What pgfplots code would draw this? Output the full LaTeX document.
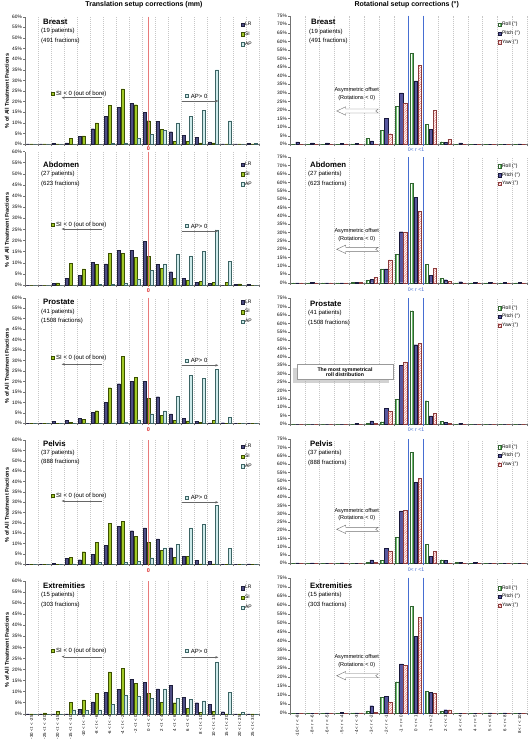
\documentclass[border=0pt]{standalone}
\usepackage{fontspec}
\setmainfont{Liberation Sans}
\usepackage{pgfplots}
\usepackage{pgfplotstable}
\pgfplotsset{compat=1.18}
\usetikzlibrary{patterns.meta, arrows.meta, shadows}

\definecolor{lrc}{RGB}{78,78,132}
\definecolor{lrd}{RGB}{30,30,60}
\definecolor{sic}{RGB}{160,200,40}
\definecolor{sid}{RGB}{60,80,0}
\definecolor{apc}{RGB}{205,234,234}
\definecolor{apd}{RGB}{60,100,100}
\definecolor{rollc}{RGB}{110,190,110}
\definecolor{rolld}{RGB}{50,100,50}
\definecolor{pitchc}{RGB}{88,88,160}
\definecolor{pitchd}{RGB}{25,25,60}
\definecolor{yawc}{RGB}{228,100,100}
\definecolor{yawd}{RGB}{140,60,60}
\definecolor{redl}{RGB}{228,100,100}
\definecolor{redt}{RGB}{220,40,40}
\definecolor{bluel}{RGB}{70,110,210}

\newcommand{\fs}[1]{\fontsize{#1pt}{#1pt}\selectfont}

% ---------- translation data (% of fractions) ----------
\pgfplotstableread{
x LR SI AP
0 0 0 0
1 0 0 0
2 0.2 0 0
3 0.5 2.7 0
4 3.5 3.8 0
5 7.2 10 0
6 13 18.2 0.3
7 17.3 26 0.5
8 19.3 18.5 2.8
9 15 11 4.5
10 10.7 7 6.5
11 5.8 1.2 10
12 4.2 1.2 13
13 3 0.5 15.8
14 1 0.5 35
15 0 0 11
16 0 0 0
17 0.2 0 0.3
}\tA
\pgfplotstableread{
x LR SI AP
0 0 0 0
1 0 0 0
2 0.7 1 0
3 3 9.8 0
4 4.3 7.2 0
5 10.2 9.2 0.3
6 9.5 14.3 0.3
7 15.6 14.3 0.7
8 15.6 12.3 2.5
9 19.6 12.8 6.6
10 9.4 7.5 9.5
11 6 3 14
12 2.9 2 13.1
13 1.3 1.6 15.1
14 0.8 1.1 24.8
15 0 1.1 10.5
16 0.2 0.5 0
17 0.2 0 0
}\tB
\pgfplotstableread{
x LR SI AP
0 0 0 0
1 0 0 0
2 0.8 0 0
3 1.3 0.6 0
4 2.3 1.9 0.2
5 5.3 6 0
6 10.1 17 0.3
7 18.9 32 0.7
8 20 22 1.7
9 20 11.8 4.6
10 12.7 3.8 6
11 4.5 1.3 12.9
12 2.3 1.2 23
13 0.8 0.5 21.5
14 0.2 1.3 25.8
15 0.3 0 3
16 0 0 0
17 0 0 0
}\tC
\pgfplotstableread{
x LR SI AP
0 0 0 0
1 0 0 0
2 0.5 0 0
3 3 3.4 0.3
4 2.2 6.1 0
5 4.8 10.7 0.8
6 9.1 19.7 0
7 18.4 20.7 1.1
8 16.2 13.5 1.4
9 17.6 10.7 3.2
10 12.3 6.7 7.9
11 8 3.5 9.5
12 3.7 3.7 17.6
13 1.8 0.2 19.2
14 1.3 0.2 28.5
15 0 0 7.7
16 0 0 0
17 0.2 0 0
}\tD
\pgfplotstableread{
x LR SI AP
0 0 0 0
1 0 0.4 0
2 0 1.2 0
3 0 5.1 1.8
4 2 6.3 1.4
5 5.4 9.2 1.8
6 9.7 18.9 4.2
7 11 20.4 8.4
8 15.5 13.7 7.8
9 14.3 9.2 6.9
10 11.2 5.1 11.2
11 12.8 5 7.1
12 7.5 2.4 6.5
13 5 0.5 5.9
14 4.1 1.1 23.4
15 0.9 0 9.8
16 0 0 0.8
17 0 0 0
}\tE
% ---------- rotation data ----------
\pgfplotstableread{
x Roll Pitch Yaw
0 0 1.4 0
1 0 0.8 0
2 0 0.8 0
3 0 0.5 0.3
4 0.3 0.5 0
5 3.3 2 0.3
6 8.2 15 6.2
7 22 30 24
8 53 37 46
9 11.5 8.7 20
10 1.5 1 3
11 0 0.8 0
12 0 0 0
13 0 0 0
14 0 0 0
15 0 0.3 0
}\rA
\pgfplotstableread{
x Roll Pitch Yaw
0 0 0 0
1 0 0.3 0
2 0 0 0
3 0 0 0
4 0.2 0.3 0.2
5 1.6 2 3.4
6 8.2 8.2 13.6
7 16.8 30.5 30
8 59.5 51 42.5
9 11 4.6 8.6
10 2.6 1.8 1
11 0 0.6 0
12 0 0.3 0
13 0 0.2 0
14 0 0.2 0
15 0 0.2 0
}\rB
\pgfplotstableread{
x Roll Pitch Yaw
0 0 0 0
1 0 0 0
2 0 0 0
3 0 0 0
4 0 0.5 0
5 0.3 1.8 0.5
6 1.4 9.2 7.6
7 14.7 35.2 37
8 67.6 47.3 48.1
9 13.9 4.8 6.4
10 1.6 1 0.5
11 0 0.5 0
12 0 0 0
13 0 0 0
14 0 0 0
15 0 0 0
}\rC
\pgfplotstableread{
x Roll Pitch Yaw
0 0 0.3 0
1 0 0.3 0
2 0 0 0
3 0 0.2 0
4 0 0 0
5 0.5 2 0.6
6 1.8 9.1 7.5
7 15.9 31.7 32
8 67.1 49 51.4
9 11.3 4.4 7.3
10 2.2 1.7 0.2
11 0.6 0.6 0
12 0 0.6 0
13 0 0 0
14 0 0 0
15 0 0 0
}\rD
\pgfplotstableread{
x Roll Pitch Yaw
0 0 0 0
1 0 0 0
2 0 0.3 0
3 0 0.4 0
4 0.3 0.3 0.3
5 1.3 4.2 0.4
6 8.7 9.4 6.3
7 17.5 27.4 26.7
8 59.3 42.7 53
9 12 11.6 10.9
10 1.2 2 2
11 0 0 0
12 0 0 0
13 0 0.3 0
14 0 0.3 0
15 0 0 0
}\rE

\pgfplotsset{
  basebar/.style={
    scale only axis, ybar, clip=false, ymin=0,
    axis lines=left, axis line style={-, black!55, line width=0.4pt},
    tick align=outside, major tick length=2pt,
    tick style={black!55, line width=0.35pt},
    xticklabels={},
    xmajorgrids, major grid style={dash pattern=on 0.8pt off 1.2pt, black!22, line width=0.35pt},
    yticklabel={\pgfmathprintnumber{\tick}\%},
    /pgf/number format/assume math mode=true,
    yticklabel style={font=\fs{4.8}, inner sep=1pt},
    xticklabel style={rotate=90, anchor=east, font=\fs{4.4}, inner sep=1.5pt},
    legend cell align=left,
    legend style={draw=none, fill=none, anchor=north west, font=\fs{5}, inner sep=0pt, nodes={inner sep=0.6pt}},
    legend image code/.code={\draw[##1] (0pt,-1.7pt) rectangle (3.4pt,1.7pt);},
  },
  trans/.style={basebar, width=234pt, xmin=-0.5, xmax=17.5, ymax=60, ytick={0,5,...,60},
    xtick={-0.5,0.5,...,17.5}, bar width=3pt, legend style={row sep=3.6pt}},
  rot/.style={basebar, width=237pt, xmin=-0.5, xmax=15.5, ymax=75, ytick={0,5,...,75},
    xtick={-0.5,0.5,...,15.5}, bar width=3.4pt, legend style={row sep=2.4pt}},
  lrbar/.style={fill=lrc, draw=lrd, line width=0.3pt, bar shift=-3.6pt},
  sibar/.style={fill=sic, draw=sid, line width=0.3pt, bar shift=0pt},
  apbar/.style={fill=apc, draw=apd, line width=0.3pt, bar shift=3.6pt},
  rollbar/.style={fill=white, draw=rolld, line width=0.3pt, bar shift=-4pt,
    pattern color=rollc, postaction={pattern={Lines[angle=90,distance=1.8pt,line width=0.35pt]}}},
  pitchbar/.style={fill=pitchc, draw=pitchd, line width=0.3pt, bar shift=0pt},
  yawbar/.style={fill=white, draw=yawd, line width=0.3pt, bar shift=4pt,
    pattern color=yawc, postaction={pattern={Lines[angle=45,distance=1.7pt,line width=0.4pt]}}},
}

\newcommand{\transplots}[1]{%
  \addplot[lrbar] table[x=x,y=LR]{#1};
  \addplot[sibar] table[x=x,y=SI]{#1};
  \addplot[apbar] table[x=x,y=AP]{#1};
  \legend{LR,SI,AP}
  \draw[redl, line width=1.6pt, opacity=0.85] (axis cs:9,60) -- ([yshift=-2pt]axis cs:9,0);
}
\newcommand{\rotplots}[1]{%
  \addplot[rollbar] table[x=x,y=Roll]{#1};
  \addplot[pitchbar] table[x=x,y=Pitch]{#1};
  \addplot[yawbar] table[x=x,y=Yaw]{#1};
  \legend{Roll (°),Pitch (°),Yaw (°)}
  \draw[bluel, line width=0.8pt] (axis cs:7.5,75) -- ([yshift=-2pt]axis cs:7.5,0);
  \draw[bluel, line width=0.8pt] (axis cs:8.5,75) -- ([yshift=-2pt]axis cs:8.5,0);
}
\newcommand{\plabel}[5]{% x, y, name, patients, fractions
  \node[anchor=west, inner sep=0pt, font=\bfseries\fs{7.8}] at (#1pt,-#2pt) {#3};
  \node[anchor=west, inner sep=0pt, font=\fs{6}] at ({#1pt-2pt},{-#2pt-9.2pt}) {(#4 patients)};
  \node[anchor=west, inner sep=0pt, font=\fs{6}] at ({#1pt-2pt},{-#2pt-18.8pt}) {(#5 fractions)};
}
\newcommand{\sinote}[2]{%
  \draw[fill=sic, draw=sid, line width=0.3pt] (50.8pt,{-#1pt+1.6pt}) rectangle ++(3.2pt,-3.2pt);
  \node[anchor=west, inner sep=0pt, font=\fs{6}] at (56pt,-#1pt) {SI < 0 (out of bore)};
  \draw[black!60, line width=0.4pt, -{Stealth[length=3pt,width=2.4pt]}] (101.7pt,-#2pt) -- (61.7pt,-#2pt);
}
\newcommand{\apnote}[2]{%
  \draw[fill=apc, draw=apd, line width=0.3pt] (185.2pt,{-#1pt+1.6pt}) rectangle ++(3.2pt,-3.2pt);
  \node[anchor=west, inner sep=0pt, font=\fs{6}] at (190.7pt,-#1pt) {AP> 0};
  \draw[black!60, line width=0.4pt, -{Stealth[length=3pt,width=2.4pt]}] (181.7pt,-#2pt) -- (218.3pt,-#2pt);
}
\newcommand{\hollowarrow}[2]{%
  \draw[black!55, line width=0.4pt, fill=white] (#1pt,-#2pt) -- ++(9pt,4.2pt) -- ++(0,-2.2pt) -- ++(32.6pt,0)
    -- ++(-2.6pt,-2pt) -- ++(2.6pt,-2pt) -- ++(-32.6pt,0) -- ++(0,-2.2pt) -- cycle;
}
\newcommand{\asymnote}[3]{%
  \node[font=\fs{5.6}, inner sep=0pt] at (356.7pt,-#1pt) {Asymmetric offset};
  \node[font=\fs{5.6}, inner sep=0pt] at (356.7pt,-#2pt) {(Rotations < 0)};
  \hollowarrow{336.7}{#3}
}
\newcommand{\zerolabel}[1]{\node[text=redt, font=\bfseries\fs{5.5}, inner sep=0pt] at (148.5pt,-#1pt) {0};}
\newcommand{\rlabel}[1]{\node[text=bluel, font=\fs{5.2}, inner sep=0pt] at (416pt,-#1pt) {0< r <1};}
\newcommand{\ylab}[1]{\node[rotate=90, font=\bfseries\fs{5.5}, inner sep=0pt] at (7pt,-#1pt) {\% of All Treatment Fractions};}

\begin{document}
\begin{tikzpicture}
\useasboundingbox (0,0) rectangle (529pt,-743pt);
\fill[white] (0,0) rectangle (529pt,-743pt);

\node[font=\bfseries\fs{7}] at (144pt,-5pt) {Translation setup corrections (mm)};
\node[font=\bfseries\fs{7}] at (406.7pt,-5pt) {Rotational setup corrections (°)};

% ===== Row 1: Breast =====
\begin{axis}[trans, at={(25pt,-144pt)}, anchor=south west, height=127.3pt, legend style={at={(0.921,0.964)}}]
\transplots{\tA}
\end{axis}
\begin{axis}[rot, at={(290pt,-144.3pt)}, anchor=south west, height=128.6pt, legend style={at={(0.876,0.956)}}]
\rotplots{\rA}
\end{axis}
\plabel{43}{22}{Breast}{19}{491}
\plabel{311}{22.3}{Breast}{19}{491}
\sinote{94}{97.7}
\apnote{96}{101}
\asymnote{90}{98.3}{111}
\zerolabel{148.5}
\rlabel{149.5}
\ylab{91}

% ===== Row 2: Abdomen =====
\begin{axis}[trans, at={(25pt,-285pt)}, anchor=south west, height=133.5pt, legend style={at={(0.921,0.927)}}]
\transplots{\tB}
\end{axis}
\begin{axis}[rot, at={(290pt,-282.7pt)}, anchor=south west, height=125.4pt, legend style={at={(0.876,0.955)}}]
\rotplots{\rB}
\end{axis}
\plabel{43}{165}{Abdomen}{27}{623}
\plabel{310}{165}{Abdomen}{27}{623}
\sinote{225}{229}
\apnote{226}{231}
\asymnote{231}{239.3}{249.3}
\zerolabel{290.7}
\rlabel{289.3}
\ylab{230}

% ===== Row 3: Prostate =====
\begin{axis}[trans, at={(25pt,-423.3pt)}, anchor=south west, height=125.6pt, legend style={at={(0.921,0.99)}}]
\transplots{\tC}
\end{axis}
\begin{axis}[rot, at={(290pt,-424pt)}, anchor=south west, height=125.7pt, legend style={at={(0.876,0.949)}}]
\rotplots{\rC}
\end{axis}
\plabel{43}{302.3}{Prostate}{41}{1508}
\plabel{310}{304}{Prostate}{41}{1508}
\sinote{357.7}{364.3}
\apnote{360.3}{365.3}
\node[draw=black!40, fill=white, line width=0.4pt, font=\bfseries\fs{5.2}, align=center, inner sep=1pt,
  minimum width=96pt, minimum height=15pt,
  drop shadow={shadow xshift=-4pt, shadow yshift=-3pt, fill=black!35}] at (345pt,-372pt)
  {The most symmetrical\\roll distribution};
\zerolabel{430}
\rlabel{430}
\ylab{366}

% ===== Row 4: Pelvis =====
\begin{axis}[trans, at={(25pt,-564.3pt)}, anchor=south west, height=124.3pt, legend style={at={(0.921,0.973)}}]
\transplots{\tD}
\end{axis}
\begin{axis}[rot, at={(290pt,-563.3pt)}, anchor=south west, height=124pt, legend style={at={(0.876,0.965)}}]
\rotplots{\rD}
\end{axis}
\plabel{43}{443.3}{Pelvis}{37}{888}
\plabel{310}{444}{Pelvis}{37}{888}
\sinote{495.7}{501}
\apnote{497.3}{502.3}
\asymnote{511}{518.3}{529.3}
\zerolabel{571}
\rlabel{569.7}
\ylab{505}

% ===== Row 5: Extremities =====
\begin{axis}[trans, at={(25pt,-713.7pt)}, anchor=south west, height=132.7pt, legend style={at={(0.921,0.972)}},
  extra x ticks={0,...,17},
  extra x tick labels={-30 < t < -25,-25 < t < -20,-20 < t < -15,-15 < t < -10,-10 < t < -8,-8 < t < -6,-6 < t < -4,-4 < t < -2,-2 < t < 0,0 < t < 2,2 < t < 4,4 < t < 6,6 < t < 8,8 < t < 10,10 < t < 15,15 < t < 20,20 < t < 25,25 < t < 30},
  extra x tick style={grid=none, major tick length=0pt}]
\transplots{\tE}
\end{axis}
\begin{axis}[rot, at={(290pt,-713.3pt)}, anchor=south west, height=135.6pt, legend style={at={(0.876,0.948)}},
  extra x ticks={0,...,15},
  extra x tick labels={-10 < r < -8,-8 < r < -6,-6 < r < -5,-5 < r < -4,-4 < r < -3,-3 < r < -2,-2 < r < -1,-1 < r < 0,0 < r < 1,1 < r < 2,2 < r < 3,3 < r < 4,4 < r < 5,5 < r < 6,6 < r < 8,8 < r < 10},
  extra x tick style={grid=none, major tick length=0pt}]
\rotplots{\rE}
\end{axis}
\plabel{43}{586}{Extremities}{15}{303}
\plabel{310}{585.7}{Extremities}{15}{303}
\sinote{650.7}{656.7}
\apnote{651}{657.3}
\asymnote{656.7}{665}{675.7}
\ylab{650}
\end{tikzpicture}
\end{document}
